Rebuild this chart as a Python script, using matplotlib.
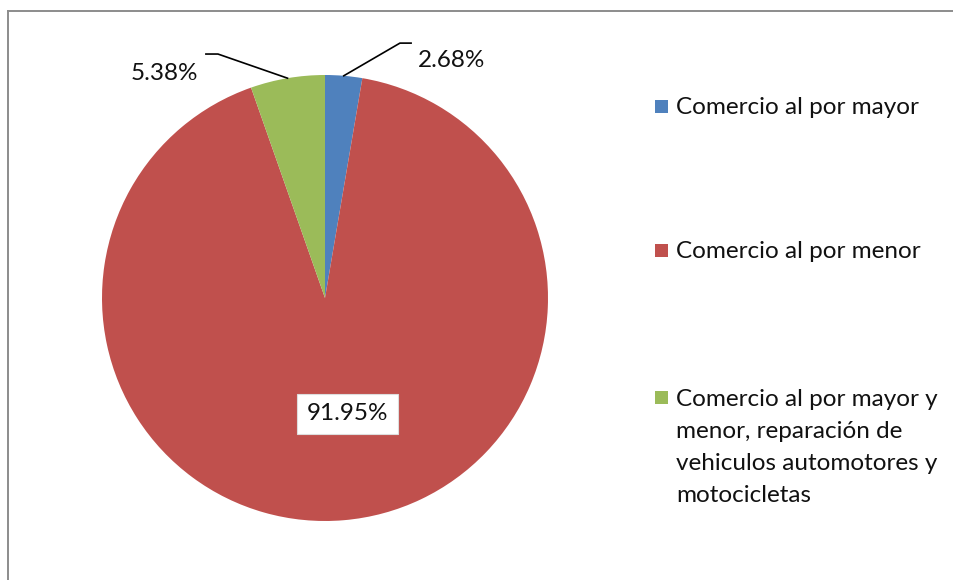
import matplotlib.pyplot as plt
import matplotlib.patches as mpatches
import numpy as np

# data
categories = [
    "Comercio al por mayor",
    "Comercio al por menor",
    "Comercio al por mayor y\nmenor, reparación de\nvehiculos automotores y\nmotocicletas",
]
shares = [2.68, 91.95, 5.38]
colors = ["#4F81BD", "#C0504D", "#9BBB59"]

W, H = 954, 580
plt.rcParams['font.family'] = ['Lato', 'DejaVu Sans']

fig = plt.figure(figsize=(W / 100, H / 100), dpi=100)
fig.patch.set_facecolor('white')

# pie axes, centre (325, 298) px, radius 223 px
cx, cy, r = 325, 298, 223
ax = fig.add_axes([(cx - r) / W, (H - cy - r) / H, 2 * r / W, 2 * r / H])
wedges, _ = ax.pie(shares, colors=colors, startangle=90, counterclock=False,
                   radius=1, wedgeprops=dict(linewidth=0))
ax.set_xlim(-1, 1)
ax.set_ylim(-1, 1)
ax.set_aspect('equal')
ax.axis('off')

labels = [f"{v:.2f}%" for v in shares]
fs = 17.5
tc = '#111111'

def mid_angle(w):
    return np.deg2rad((w.theta1 + w.theta2) / 2)

# blue, label outside with leader line
a = mid_angle(wedges[0])
ax.plot([np.cos(a), 0.336, 0.386], [np.sin(a), 1.143, 1.143], color='black', lw=1.2, clip_on=False)
ax.text(0.417, 1.065, labels[0], ha='left', va='center', fontsize=fs, color=tc)

# green, label outside with leader line
a = mid_angle(wedges[2])
ax.plot([np.cos(a), -0.48, -0.534], [np.sin(a), 1.094, 1.094], color='black', lw=1.2, clip_on=False)
ax.text(-0.567, 1.005, labels[2], ha='right', va='center', fontsize=fs, color=tc)

# red, label inside a white box
ax.text(0.103, -0.52, labels[1], ha='center', va='center', fontsize=fs, color=tc,
        bbox=dict(boxstyle='square,pad=0.4', facecolor='white', edgecolor='#dddddd', lw=0.8))

# legend drawn by hand
legend_rows = [108, 252, 399]
for cat, col, ly in zip(categories, colors, legend_rows):
    fig.patches.append(mpatches.Rectangle((655 / W, (H - ly + 2 - 7) / H), 13 / W, 13 / H,
                                          transform=fig.transFigure, facecolor=col,
                                          edgecolor='none'))
    for k, line in enumerate(cat.split('\n')):
        fig.text(676 / W, (H - ly - 32 * k) / H, line, ha='left', va='center',
                 fontsize=fs, color=tc)

# chart frame (left and top edges visible)
fig.add_artist(plt.Line2D([8.5 / W, 8.5 / W], [0, (H - 10.5) / H], color='#8c8c8c', lw=1.4))
fig.add_artist(plt.Line2D([8.5 / W, 1], [(H - 10.5) / H, (H - 10.5) / H], color='#8c8c8c', lw=1.4))

fig.savefig('out.png', dpi=100)
